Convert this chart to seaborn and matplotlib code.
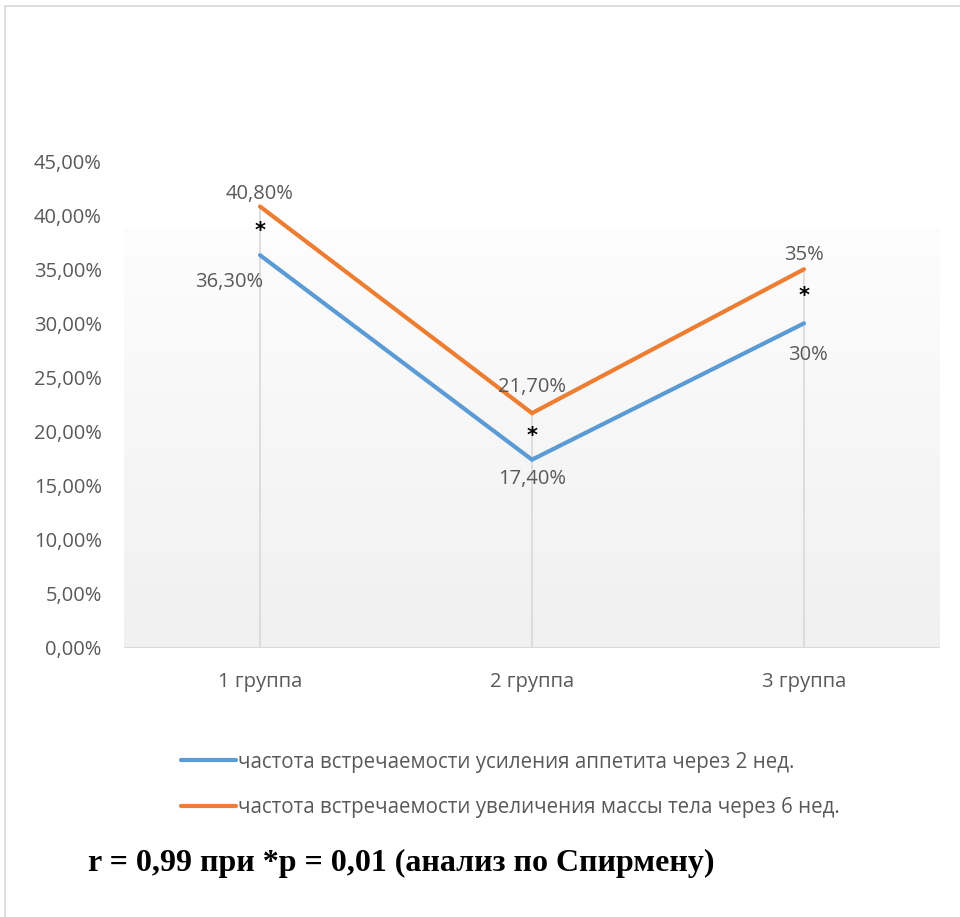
import numpy as np
import pandas as pd
import matplotlib
matplotlib.use("Agg")
import matplotlib.pyplot as plt
import seaborn as sns
from matplotlib.colors import LinearSegmentedColormap
from matplotlib.patches import Rectangle

# Data
groups = ["1 группа", "2 группа", "3 группа"]
appetite = [0.363, 0.174, 0.30]
weight = [0.408, 0.217, 0.35]
appetite_labels = ["36,30%", "17,40%", "30%"]
weight_labels = ["40,80%", "21,70%", "35%"]
series_names = [
    "частота встречаемости усиления аппетита через 2 нед.",
    "частота встречаемости увеличения массы тела через 6 нед.",
]
y_ticks = [0.0, 0.05, 0.10, 0.15, 0.20, 0.25, 0.30, 0.35, 0.40, 0.45]
footer = "r = 0,99 при *p = 0,01 (анализ по Спирмену)"

BLUE = "#5B9BD5"
ORANGE = "#ED7D31"
TEXT = "#595959"
GRID = "#D9D9D9"
FS = 14.5

sns.set_theme(style="white")
plt.rcParams["font.family"] = ["Open Sans", "DejaVu Sans"]

df = pd.DataFrame({
    "group": groups * 2,
    "x": list(range(len(groups))) * 2,
    "value": appetite + weight,
    "series": [series_names[0]] * 3 + [series_names[1]] * 3,
})

fig = plt.figure(figsize=(9.6, 9.17), dpi=100)
W, H = 960, 917
ax = fig.add_axes([124 / W, 1 - 648 / H, (940 - 124) / W, (648 - 161) / H])

# outer chart border
fig.patches.append(Rectangle((5 / W, -0.01), 1.0, 1 - 6 / H + 0.01,
                             transform=fig.transFigure, fill=False,
                             edgecolor=GRID, linewidth=1.2, zorder=0))

ax.set_xlim(-0.5, 2.5)
ax.set_ylim(0, 0.45)

# plot-area gradient fill
cmap = LinearSegmentedColormap.from_list("bg", ["#F0F0F0", "#FDFDFD"])
grad = np.linspace(0, 1, 256).reshape(-1, 1)
ax.imshow(grad, extent=(-0.5, 2.5, 0, 0.388), origin="lower", aspect="auto",
          cmap=cmap, zorder=0)

# drop lines from the highest point of each group
tops = [max(a, b) for a, b in zip(appetite, weight)]
ax.vlines(range(len(groups)), 0, tops, color=GRID, linewidth=1.2, zorder=1)
ax.axhline(0, color=GRID, linewidth=1.5, zorder=1)

sns.lineplot(data=df, x="x", y="value", hue="series",
             palette=[BLUE, ORANGE], linewidth=3.0, ax=ax, legend=False,
             zorder=3)
for line in ax.lines:
    line.set_solid_capstyle("round")
    line.set_solid_joinstyle("miter")

for s in ax.spines.values():
    s.set_visible(False)

ax.set_xticks(range(len(groups)))
ax.set_xticklabels(groups)
ax.set_yticks(y_ticks)
ax.set_yticklabels([f"{v * 100:.2f}%".replace(".", ",") for v in y_ticks])
ax.tick_params(axis="both", length=0, labelsize=FS, labelcolor=TEXT)
ax.tick_params(axis="y", pad=16)
ax.tick_params(axis="x", pad=17)
ax.set_xlabel("")
ax.set_ylabel("")
ax.grid(False)

# data labels and significance marks
lab_kw = dict(fontsize=FS, color=TEXT, zorder=5, textcoords="offset points",
              va="center")
ax.annotate(weight_labels[0], (0, weight[0]), xytext=(0, 9), ha="center", **lab_kw)
ax.annotate(appetite_labels[0], (0, appetite[0]), xytext=(2, -19), ha="right", **lab_kw)
ax.annotate(weight_labels[1], (1, weight[1]), xytext=(0, 19), ha="center", **lab_kw)
ax.annotate(appetite_labels[1], (1, appetite[1]), xytext=(0, -14), ha="center", **lab_kw)
ax.annotate(weight_labels[2], (2, weight[2]), xytext=(0, 10.5), ha="center", **lab_kw)
ax.annotate(appetite_labels[2], (2, appetite[2]), xytext=(3, -23), ha="center", **lab_kw)

for i in range(len(groups)):
    mid = (appetite[i] + weight[i]) / 2
    ax.text(i, mid, "*", ha="center", va="center", fontsize=15,
            fontweight="bold", color="black", family="DejaVu Sans", zorder=5)

handles = [plt.Line2D([], [], color=c, linewidth=3, solid_capstyle="round")
           for c in (BLUE, ORANGE)]
fig.legend(handles, series_names, loc="center left",
           bbox_to_anchor=(162 / W, 1 - 785 / H), frameon=False,
           fontsize=14.8, labelcolor=TEXT, handlelength=2.7,
           handletextpad=0.08, labelspacing=1.2)

fig.text(88 / W, 1 - 863 / H, footer, fontsize=23, fontweight="bold",
         family=["Liberation Serif", "DejaVu Serif"], color="black",
         ha="left", va="center")

fig.savefig("out.png", dpi=100)
